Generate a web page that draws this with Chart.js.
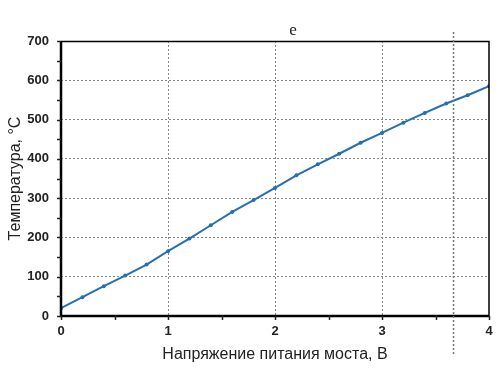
<!DOCTYPE html>
<html>
<head>
<meta charset="utf-8">
<script src="https://cdn.jsdelivr.net/npm/chart.js@4/dist/chart.umd.min.js"></script>
<style>
  html, body { margin: 0; padding: 0; background: #fff; }
  #wrap { width: 502px; height: 372px; position: relative; }
</style>
</head>
<body>
<div id="wrap"><canvas id="chart" width="502" height="372"></canvas></div>
<script>
// data
var voltage = [0, 0.2, 0.4, 0.6, 0.8, 1.0, 1.2, 1.4, 1.6, 1.8, 2.0, 2.2, 2.4, 2.6, 2.8, 3.0, 3.2, 3.4, 3.6, 3.8, 4.0];
var temperature = [20, 48, 76, 103, 131, 165, 197, 231, 265, 295, 326, 358, 386, 413, 441, 466, 492, 517, 541, 562, 585];
var markerX = 3.66;          // stray vertical dashed line
var titleText = "e";
var xTitle = "Напряжение питания моста, В";
var yTitle = "Температура, °C";

var lineColor = "#2470b0";

// frame, minor ticks, title, marker line
var extras = {
  id: "extras",
  afterDraw: function(chart) {
    var ctx = chart.ctx;
    var xs = chart.scales.x, ys = chart.scales.y;
    var a = chart.chartArea;
    ctx.save();

    // top + right border (thin)
    ctx.strokeStyle = "#000";
    ctx.lineWidth = 1.5;
    ctx.beginPath();
    ctx.moveTo(a.left, a.top + 0.5);
    ctx.lineTo(a.right, a.top + 0.5);
    ctx.lineTo(a.right, a.bottom);
    ctx.stroke();

    // left + bottom axes (thick)
    ctx.lineWidth = 2.5;
    ctx.beginPath();
    ctx.moveTo(a.left, a.top);
    ctx.lineTo(a.left, a.bottom);
    ctx.lineTo(a.right, a.bottom);
    ctx.stroke();

    // ticks on y, every 50
    ctx.lineWidth = 1.5;
    ctx.strokeStyle = "#222";
    for (var v = 0; v <= 700; v += 50) {
      var py = Math.round(ys.getPixelForValue(v)) + 0.5;
      ctx.beginPath();
      ctx.moveTo(a.left - 4, py);
      ctx.lineTo(a.left, py);
      ctx.stroke();
    }
    // ticks on x, every 0.5
    for (var u = 0; u <= 4; u += 0.5) {
      var px = Math.round(xs.getPixelForValue(u)) + 0.5;
      ctx.beginPath();
      ctx.moveTo(px, a.bottom);
      ctx.lineTo(px, a.bottom + 4);
      ctx.stroke();
    }

    // stray dashed vertical line
    var mx = Math.round(xs.getPixelForValue(markerX)) + 0.5;
    ctx.strokeStyle = "#777";
    ctx.lineWidth = 1.5;
    ctx.setLineDash([2, 2]);
    ctx.beginPath();
    ctx.moveTo(mx, 32);
    ctx.lineTo(mx, 356);
    ctx.stroke();
    ctx.setLineDash([]);

    // title "e"
    ctx.fillStyle = "#222";
    ctx.font = "17px 'Liberation Serif', 'DejaVu Serif', serif";
    ctx.textAlign = "center";
    ctx.textBaseline = "alphabetic";
    ctx.fillText(titleText, 293, 35);

    ctx.restore();
  }
};

var ctx = document.getElementById("chart").getContext("2d");
var chart = new Chart(ctx, {
  type: "line",
  data: {
    datasets: [{
      data: voltage.map(function(x, i) { return { x: x, y: temperature[i] }; }),
      borderColor: lineColor,
      backgroundColor: lineColor,
      borderWidth: 2,
      pointRadius: 2,
      pointBorderWidth: 0,
      tension: 0
    }]
  },
  options: {
    responsive: false,
    animation: false,
    events: [],
    layout: { padding: { top: 41, right: 13, left: 0, bottom: 0 } },
    plugins: { legend: { display: false }, tooltip: { enabled: false } },
    scales: {
      x: {
        type: "linear",
        min: 0, max: 4,
        grid: {
          color: function(c) { return (c.tick.value > 0 && c.tick.value < 4) ? "#888" : "rgba(0,0,0,0)"; },
          lineWidth: 1,
          drawTicks: false
        },
        border: { display: false, dash: [2, 2] },
        ticks: {
          stepSize: 1,
          padding: 8,
          color: "#222",
          font: { family: "'Liberation Sans', Arial, sans-serif", size: 13, weight: "bold" },
          maxRotation: 0
        },
        title: {
          display: true,
          text: xTitle,
          color: "#222",
          font: { family: "'Liberation Sans', Arial, sans-serif", size: 16 },
          padding: { top: 4, bottom: 8 }
        },
        afterFit: function(s) { s.height = 56; }
      },
      y: {
        min: 0, max: 700,
        border: { display: false, dash: [2, 2] },
        grid: {
          color: function(c) { return (c.tick.value > 0 && c.tick.value < 700) ? "#888" : "rgba(0,0,0,0)"; },
          lineWidth: 1,
          drawTicks: false
        },
        ticks: {
          stepSize: 100,
          padding: 12,
          color: "#222",
          font: { family: "'Liberation Sans', Arial, sans-serif", size: 13, weight: "bold" }
        },
        title: {
          display: true,
          text: yTitle,
          color: "#222",
          font: { family: "'Liberation Sans', Arial, sans-serif", size: 16 },
          padding: { top: 6, bottom: 0 }
        },
        afterFit: function(s) { s.width = 61; }
      }
    }
  },
  plugins: [extras]
});
</script>
</body>
</html>
